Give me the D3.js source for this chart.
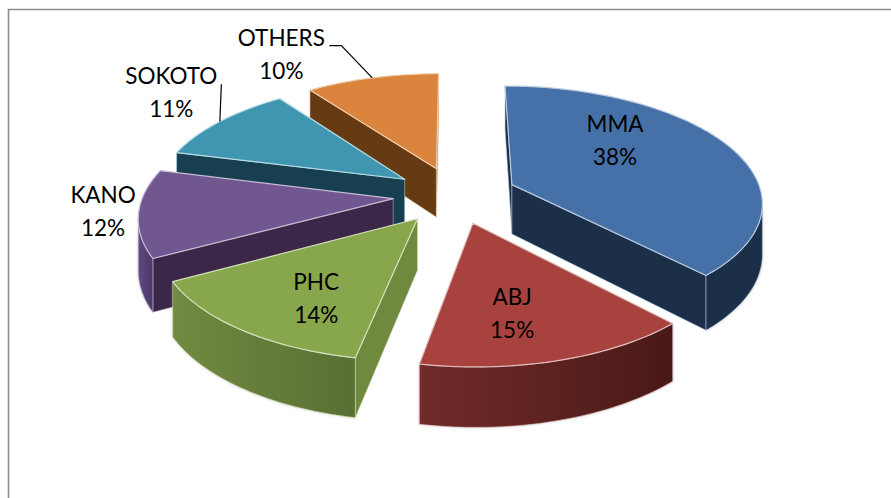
<!DOCTYPE html>
<meta charset="utf-8">
<style>
  body { margin: 0; background: #fff; }
  text { font-family: Lato, "Open Sans", sans-serif; font-size: 22.5px; fill: #000; text-anchor: middle; }
</style>
<script src="https://d3js.org/d3.v7.min.js"></script>
<svg width="891" height="498"></svg>

<script>
// data
var names = ["MMA", "ABJ", "PHC", "KANO", "SOKOTO", "OTHERS"];
var shares = [38, 15, 14, 12, 11, 10];

// colours per slice
var topColors = ["#4571a8", "#a8423f", "#88a64b", "#71578f", "#4096b0", "#db843d"];
var edgeColors = ["#b9c9de", "#e0bdbc", "#d3e0bb", "#c6bad4", "#b6dbe5", "#f3cfae"];
var sideColors = ["#1b2f49", "#4c1b19", "#6f8a3f", "#3b2848", "#173f50", "#663a12"];
var wallLeft = ["#1b2f49", "#702b2a", "#718a40", "#5f4a82", "#1f5266", "#7f4a18"];
var wallRight = ["#1b2f49", "#491917", "#5a6f33", "#4b3968", "#1f5266", "#7f4a18"];

// label placement: radius along the slice middle, then a nudge
var labelRadius = [175, 230, 230, 350, 360, 370];
var labelNudge = [[3, -25], [-16, 3], [12, 9], [4, -4], [-16, -18], [-78, -5]];
var leaderElbows = [null, null, null, null, [[50, -9]], [[60, -9], [48, -9]]];

// projection of the tilted pie
var cx = 455, cy = 195,
    radius = 250,
    explode = 62,
    tilt = 0.46,
    camera = 1800,
    depth = 50;

function project(x, z, down) {
    var p = camera / (camera - z);
    return [cx + x * p, cy + (z * tilt + (down ? depth : 0)) * p];
}
// angle is clockwise from 12 o'clock, z grows towards the viewer
function onPlane(r, angle, mid, down) {
    return project(explode * Math.sin(mid) + r * Math.sin(angle),
        -explode * Math.cos(mid) - r * Math.cos(angle), down);
}

var svg = d3.select("svg");
var defs = svg.append("defs");
var shadow = defs.append("filter").attr("id", "soft")
    .attr("x", "-10%").attr("y", "-10%").attr("width", "120%").attr("height", "120%");
shadow.append("feGaussianBlur").attr("stdDeviation", 1.6);

// frame
svg.append("path")
    .attr("d", "M8.5,498V9.5H891")
    .attr("fill", "none").attr("stroke", "#8c8c8c").attr("stroke-width", 1.6);

var pie = d3.pie().sort(null);
var slices = pie(shares).map(function (d, i) {
    d.i = i;
    d.mid = (d.startAngle + d.endAngle) / 2;
    return d;
});

var line = d3.line();
var polygon = d3.line().curve(d3.curveLinearClosed);

// far slices first
var order = slices.slice().sort(function (a, b) {
    return d3.descending(Math.cos(a.mid), Math.cos(b.mid));
});

order.forEach(function (d) {
    var g = svg.append("g");
    var i = d.i;
    var steps = Math.ceil((d.endAngle - d.startAngle) / 0.02);
    var angles = d3.range(steps + 1).map(function (s) {
        return d.startAngle + (d.endAngle - d.startAngle) * s / steps;
    });
    var apex = onPlane(0, 0, d.mid), apexLow = onPlane(0, 0, d.mid, true);
    var rim = angles.map(function (a) { return onPlane(radius, a, d.mid); });
    var rimLow = angles.map(function (a) { return onPlane(radius, a, d.mid, true); });
    var midRim = rim[Math.floor(steps / 2)];

    // outer wall: the run of the rim moving right to left on screen
    var front = d3.range(steps + 1).filter(function (s) {
        return (s < steps && rim[s + 1][0] < rim[s][0]) || (s > 0 && rim[s][0] < rim[s - 1][0]);
    });
    var wallPath = null;
    if (front.length > 1) {
        var upper = front.map(function (s) { return rim[s]; });
        var lower = front.map(function (s) { return rimLow[s]; }).reverse();
        wallPath = polygon(upper.concat(lower));
        var xs = d3.extent(upper, function (p) { return p[0]; });
        var grad = defs.append("linearGradient").attr("id", "wall" + i)
            .attr("gradientUnits", "userSpaceOnUse")
            .attr("x1", xs[0]).attr("x2", xs[1]).attr("y1", 0).attr("y2", 0);
        grad.append("stop").attr("offset", 0).attr("stop-color", wallLeft[i]);
        grad.append("stop").attr("offset", 1).attr("stop-color", wallRight[i]);
        g.append("path").attr("d", wallPath)
            .attr("fill", "#8c8c8c").attr("opacity", 0.55)
            .attr("filter", "url(#soft)");
    }

    // radial walls, shown when the top face sits above their top edge
    [rim[0], rim[steps]].forEach(function (end, k) {
        var lowEnd = k ? rimLow[steps] : rimLow[0];
        var slope = (end[1] - apex[1]) / ((end[0] - apex[0]) || 0.001);
        var onEdge = apex[1] + (midRim[0] - apex[0]) * slope;
        if (midRim[1] < onEdge) {
            g.append("path")
                .attr("d", polygon([apex, end, lowEnd, apexLow]))
                .attr("fill", sideColors[i])
                .attr("stroke", edgeColors[i]).attr("stroke-opacity", 0.55).attr("stroke-width", 1);
        }
    });

    if (wallPath) {
        g.append("path").attr("d", wallPath)
            .attr("fill", "url(#wall" + i + ")")
            .attr("stroke", edgeColors[i]).attr("stroke-opacity", 0.55).attr("stroke-width", 1);
    }

    g.append("path")
        .attr("d", polygon([apex].concat(rim)))
        .attr("fill", topColors[i])
        .attr("stroke", edgeColors[i]).attr("stroke-width", 1.2).attr("stroke-linejoin", "round");
});

// labels and leader lines
slices.forEach(function (d) {
    var i = d.i;
    var r = labelRadius[i];
    var base = project(r * Math.sin(d.mid), -r * Math.cos(d.mid));
    var lx = base[0] + labelNudge[i][0], ly = base[1] + labelNudge[i][1];

    if (leaderElbows[i]) {
        var pts = [onPlane(radius, d.mid, d.mid)].concat(leaderElbows[i].map(function (o) {
            return [lx + o[0], ly + o[1]];
        }));
        svg.append("path").attr("d", line(pts))
            .attr("fill", "none").attr("stroke", "#000").attr("stroke-width", 1.2);
    }
    svg.append("text").attr("x", lx).attr("y", ly - 9).text(names[i]);
    svg.append("text").attr("x", lx).attr("y", ly + 24).text(shares[i] + "%");
});
</script>
